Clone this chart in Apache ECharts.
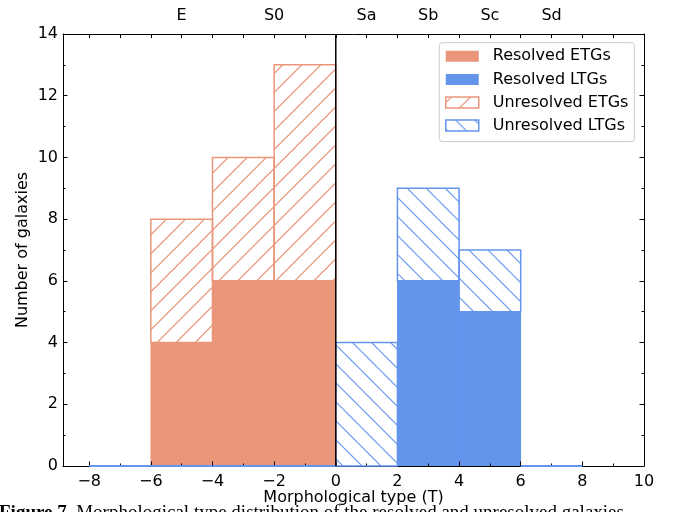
<!DOCTYPE html>
<html><head><meta charset="utf-8">
<script src="https://cdn.jsdelivr.net/npm/echarts@6/dist/echarts.min.js"></script>
<style>html,body{margin:0;padding:0;background:#fff}#chart{width:673px;height:512px}</style>
</head><body><div id="chart"></div>
<script>
// ---- data ----
const binEdges = [-8, -6, -4, -2, 0, 2, 4, 6, 8];
const resolvedETG = [0, 4, 6, 6, 0, 0, 0, 0];
const unresolvedETG = [0, 4, 4, 7, 0, 0, 0, 0];
const resolvedLTG = [0, 0, 0, 0, 0, 6, 5, 0];
const unresolvedLTG = [0, 0, 0, 0, 4, 3, 2, 0];
const xMajorTicks = [-8, -6, -4, -2, 0, 2, 4, 6, 8, 10];
const xMinorTicks = [-7, -5, -3, -1, 1, 3, 5, 7, 9];
const topTicks = [-8, -7, -6, -5, -4, -3, -2, -1, 0, 1, 2, 3, 4, 5, 6, 7, 8, 9];
const hubbleT = [-5, -2, 1, 3, 5, 7];
const hubbleTypes = ['E', 'S0', 'Sa', 'Sb', 'Sc', 'Sd'];
const seriesNames = ['Resolved ETGs', 'Resolved LTGs', 'Unresolved ETGs', 'Unresolved LTGs'];
const captionBold = 'Figure 7.';
const captionText = 'Morphological type distribution of the resolved and unresolved galaxies';

// ---- styles ----
const ORANGE = '#E9967A';
const BLUE = '#6495ED';
const FONT = 'DejaVu Sans';
const P = 19;

function hatch(color, forward, c) {
  const cv = document.createElement('canvas');
  cv.width = P; cv.height = P;
  const ctx = cv.getContext('2d');
  ctx.strokeStyle = color; ctx.lineWidth = 1.2;
  ctx.beginPath();
  for (let k = -2; k <= 2; k++) {
    const C = c + k * P;
    if (forward) { ctx.moveTo(C + 3, -3); ctx.lineTo(C - P - 3, P + 3); }
    else { ctx.moveTo(C - 3, -3); ctx.lineTo(C + P + 3, P + 3); }
  }
  ctx.stroke();
  return { image: cv, repeat: 'repeat' };
}
const orangeHatch = hatch(ORANGE, true, 5.7);
const blueHatch = hatch(BLUE, false, 10);

function bins(values, base) {
  return values.map((v, i) => {
    const b = base ? base[i] : 0;
    return [binEdges[i], binEdges[i + 1], b, b + v];
  });
}

// solid: filled bar without edge; zeroLine: draw edge for empty bins
function makeRender(fill, stroke, lw, solid, zeroLine) {
  return function (params, api) {
    const x0 = api.value(0), x1 = api.value(1), y0 = api.value(2), y1 = api.value(3);
    const a = api.coord([x0, y1]), b = api.coord([x1, y0]);
    if (y1 === y0) {
      if (!zeroLine) return { type: 'group', children: [] };
      return { type: 'line', shape: { x1: a[0], y1: a[1], x2: b[0], y2: b[1] }, style: { stroke: stroke, lineWidth: 2 } };
    }
    if (solid) {
      return {
        type: 'rect',
        shape: { x: a[0] - 0.4, y: a[1], width: b[0] - a[0] + 0.8, height: b[1] - a[1] },
        style: { fill: fill }
      };
    }
    return {
      type: 'rect',
      shape: { x: a[0], y: a[1], width: b[0] - a[0], height: b[1] - a[1] },
      style: { fill: fill, stroke: stroke, lineWidth: lw }
    };
  };
}

function fmt(v) { return v < 0 ? '\u2212' + Math.abs(v) : String(v); }

const XMIN = -8.85, XMAX = 10;
const gridBox = { left: 63, right: 29, top: 34, bottom: 46, outerBoundsMode: 'none', containLabel: false };

const chart = echarts.init(document.getElementById('chart'), null, { renderer: 'canvas' });
chart.setOption({
  animation: false,
  backgroundColor: '#fff',
  textStyle: { fontFamily: FONT },
  grid: [Object.assign({}, gridBox), Object.assign({}, gridBox)],
  xAxis: [
    {
      type: 'value', gridIndex: 0, position: 'bottom', min: XMIN, max: XMAX, z: 2.5,
      axisLine: { show: true, onZero: false, lineStyle: { color: '#000', width: 1 } },
      axisTick: { show: true, inside: true, length: 4.5, customValues: xMajorTicks, lineStyle: { color: '#000', width: 1 } },
      axisLabel: { show: true, customValues: xMajorTicks, formatter: fmt, color: '#000', fontSize: 16, fontFamily: FONT, margin: 8 },
      splitLine: { show: false },
      name: 'Morphological type (T)', nameLocation: 'middle', nameGap: 24, nameMoveOverlap: false,
      nameTextStyle: { color: '#000', fontSize: 16, fontFamily: FONT }
    },
    {
      type: 'value', gridIndex: 0, position: 'top', min: XMIN, max: XMAX,
      axisLine: { show: true, onZero: false, lineStyle: { color: '#000', width: 1 } },
      axisTick: { show: true, inside: true, length: 4, customValues: topTicks, lineStyle: { color: '#000', width: 1 } },
      axisLabel: {
        show: true, customValues: hubbleT, color: '#000', fontSize: 16, fontFamily: FONT, margin: 10,
        formatter: function (v) { const i = hubbleT.indexOf(Math.round(v)); return i >= 0 ? hubbleTypes[i] : ''; }
      },
      splitLine: { show: false }
    },
    {
      type: 'value', gridIndex: 1, position: 'bottom', min: XMIN, max: XMAX, z: 2.5,
      axisLine: { show: false },
      axisTick: { show: true, inside: true, length: 2.5, customValues: xMinorTicks, lineStyle: { color: '#000', width: 1 } },
      axisLabel: { show: false },
      splitLine: { show: false }
    }
  ],
  yAxis: [
    {
      type: 'value', gridIndex: 0, position: 'left', min: 0, max: 14, interval: 2,
      axisLine: { show: true, onZero: false, lineStyle: { color: '#000', width: 1 } },
      axisTick: { show: true, inside: true, length: 4.5, lineStyle: { color: '#000', width: 1 } },
      minorTick: { show: true, splitNumber: 2, length: 2.5, lineStyle: { color: '#000', width: 1 } },
      axisLabel: { color: '#000', fontSize: 16, fontFamily: FONT, margin: 5 },
      splitLine: { show: false },
      name: 'Number of galaxies', nameLocation: 'middle', nameGap: 32, nameMoveOverlap: false,
      nameTextStyle: { color: '#000', fontSize: 16, fontFamily: FONT }
    },
    {
      type: 'value', gridIndex: 0, position: 'right', min: 0, max: 14, interval: 2,
      axisLine: { show: true, onZero: false, lineStyle: { color: '#000', width: 1 } },
      axisTick: { show: true, inside: true, length: 4.5, lineStyle: { color: '#000', width: 1 } },
      minorTick: { show: true, splitNumber: 2, length: 2.5, lineStyle: { color: '#000', width: 1 } },
      axisLabel: { show: false },
      splitLine: { show: false }
    },
    { type: 'value', gridIndex: 1, min: 0, max: 14, show: false }
  ],
  legend: {
    orient: 'vertical', left: 439.3, top: 42.7,
    padding: [5.6, 6, 8, 5.7],
    itemWidth: 33, itemHeight: 11, itemGap: 7.1,
    backgroundColor: 'rgba(255,255,255,0.8)',
    borderColor: '#cccccc', borderWidth: 1, borderRadius: 3,
    textStyle: { color: '#000', fontSize: 16, fontFamily: FONT, lineHeight: 16, padding: [0, 0, 0, 9] },
    selectedMode: false,
    data: [
      { name: seriesNames[0], icon: 'rect', itemStyle: { color: ORANGE, borderWidth: 0 } },
      { name: seriesNames[1], icon: 'rect', itemStyle: { color: BLUE, borderWidth: 0 } },
      { name: seriesNames[2], icon: 'rect', itemStyle: { color: orangeHatch, borderColor: ORANGE, borderWidth: 1.5 } },
      { name: seriesNames[3], icon: 'rect', itemStyle: { color: blueHatch, borderColor: BLUE, borderWidth: 1.5 } }
    ]
  },
  graphic: [
    {
      type: 'text', left: -1, top: 504, silent: true,
      style: {
        text: '{b|' + captionBold + '} ' + captionText,
        font: '19px "Liberation Serif"', fill: '#000',
        rich: { b: { fontFamily: 'Liberation Serif', fontWeight: 'bold', fontSize: 19, fill: '#000' } }
      }
    }
  ],
  series: [
    {
      name: seriesNames[0], type: 'custom', xAxisIndex: 0, yAxisIndex: 0, clip: false,
      itemStyle: { color: ORANGE }, encode: { x: [0, 1], y: [2, 3] },
      renderItem: makeRender(ORANGE, null, 0, true, false), data: bins(resolvedETG)
    },
    {
      name: seriesNames[1], type: 'custom', xAxisIndex: 0, yAxisIndex: 0, clip: false,
      itemStyle: { color: BLUE }, encode: { x: [0, 1], y: [2, 3] },
      renderItem: makeRender(BLUE, null, 0, true, false), data: bins(resolvedLTG)
    },
    {
      name: seriesNames[2], type: 'custom', xAxisIndex: 0, yAxisIndex: 0, clip: false,
      itemStyle: { color: ORANGE }, encode: { x: [0, 1], y: [2, 3] },
      renderItem: makeRender(orangeHatch, ORANGE, 1.5, false, false), data: bins(unresolvedETG, resolvedETG)
    },
    {
      name: seriesNames[3], type: 'custom', xAxisIndex: 0, yAxisIndex: 0, clip: false, z: 3,
      itemStyle: { color: BLUE }, encode: { x: [0, 1], y: [2, 3] },
      renderItem: makeRender(blueHatch, BLUE, 1.5, false, true), data: bins(unresolvedLTG, resolvedLTG)
    },
    {
      name: 'T = 0', type: 'line', xAxisIndex: 0, yAxisIndex: 0, z: 5,
      symbol: 'none', silent: true,
      lineStyle: { color: '#000', width: 1.5 },
      data: [[0, 0], [0, 14]]
    }
  ]
});
</script>
</body></html>
